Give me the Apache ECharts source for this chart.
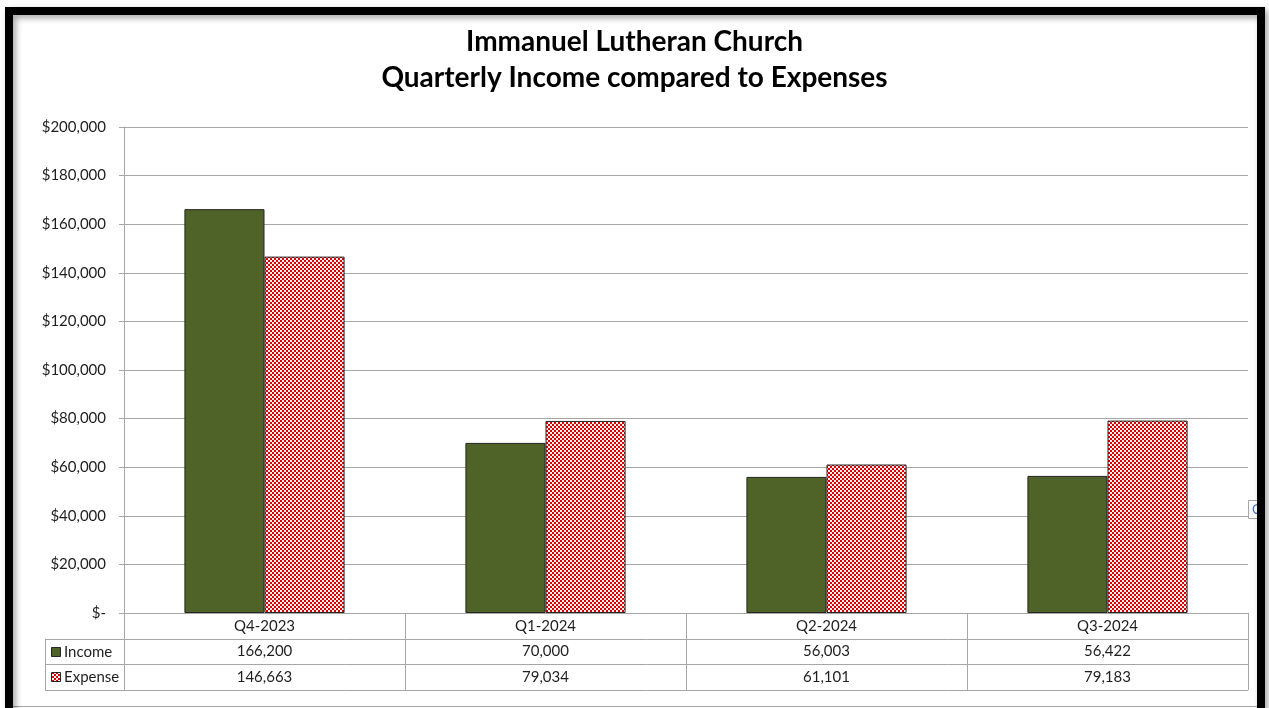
<!DOCTYPE html>
<html>
<head>
<meta charset="utf-8">
<script src="https://cdn.jsdelivr.net/npm/echarts@6/dist/echarts.min.js"></script>
<style>
html, body { margin: 0; padding: 0; background: #fff; }
#main { width: 1269px; height: 708px; }
</style>
</head>
<body>
<div id="main"></div>
<script>
var quarters = ['Q4-2023', 'Q1-2024', 'Q2-2024', 'Q3-2024'];
var income = [166200, 70000, 56003, 56422];
var expense = [146663, 79034, 61101, 79183];
var seriesNames = ['Income', 'Expense'];

var font = 'Lato, "Open Sans", sans-serif';
var textColor = '#1f1f1f';
var lineColor = '#a6a6a6';
var green = '#4f6228';
var W = 1269, H = 708;
var gridLeft = 124, gridRight = 21, gridTop = 127, gridBottom = 95;

// red / white checker used for the expense bars
function checker(size) {
	var c = document.createElement('canvas');
	c.width = size * 2;
	c.height = size * 2;
	var ctx = c.getContext('2d');
	ctx.fillStyle = '#fff0f0';
	ctx.fillRect(0, 0, size * 2, size * 2);
	ctx.fillStyle = '#d80000';
	ctx.fillRect(0, 0, size, size);
	ctx.fillRect(size, size, size, size);
	return c;
}
var expenseFill = { image: checker(2), repeat: 'repeat' };

var chart = echarts.init(document.getElementById('main'));

chart.setOption({
	animation: false,
	title: {
		text: 'Immanuel Lutheran Church\nQuarterly Income compared to Expenses',
		left: 'center',
		top: 19,
		textStyle: {
			fontFamily: font,
			fontSize: 28,
			fontWeight: 'bold',
			color: '#000',
			lineHeight: 36
		}
	},
	grid: {
		left: gridLeft,
		right: gridRight,
		top: gridTop,
		bottom: gridBottom
	},
	xAxis: {
		type: 'category',
		data: quarters,
		axisLine: { lineStyle: { color: lineColor } },
		axisTick: { show: false },
		axisLabel: { show: false }
	},
	yAxis: {
		type: 'value',
		min: 0,
		max: 200000,
		interval: 20000,
		axisLine: { show: true, lineStyle: { color: lineColor } },
		axisTick: { show: true, length: 5, lineStyle: { color: lineColor } },
		splitLine: { lineStyle: { color: lineColor } },
		axisLabel: {
			fontFamily: font,
			fontSize: 15,
			color: textColor,
			margin: 18,
			formatter: function(v) {
				return v === 0 ? '$-' : '$' + v.toLocaleString('en-US');
			}
		}
	},
	series: [{
		name: seriesNames[0],
		type: 'bar',
		data: income,
		barGap: '0%',
		barCategoryGap: '43%',
		itemStyle: { color: green, borderColor: '#262626', borderWidth: 1 }
	}, {
		name: seriesNames[1],
		type: 'bar',
		data: expense,
		itemStyle: { color: expenseFill, borderColor: '#262626', borderWidth: 1 }
	}]
});

// data table under the plot, built from the same arrays (added straight to zrender)
var zr = chart.getZr();
var G = echarts.graphic;
var tblLeft = gridLeft;
var tblRight = W - gridRight;
var step = (tblRight - tblLeft) / quarters.length;
var tblTop = H - gridBottom;
var rowH = 25.7;
var keyLeft = 45;

function line(x1, y1, x2, y2) {
	zr.add(new G.Line({ shape: { x1: x1, y1: y1, x2: x2, y2: y2 }, style: { stroke: lineColor, lineWidth: 1 }, silent: true, z: 10 }));
}
function text(t, x, y, align) {
	zr.add(new G.Text({ x: x, y: y, style: { text: t, fill: textColor, font: '15px ' + font, align: align || 'center', verticalAlign: 'middle' }, silent: true, z: 10 }));
}

for (var r = 1; r <= 3; r++) {
	var ly = Math.round(tblTop + rowH * r) + 0.5;
	line(keyLeft, ly, tblRight, ly);
}
line(keyLeft + 0.5, tblTop + rowH, keyLeft + 0.5, tblTop + rowH * 3);
for (var c = 0; c <= quarters.length; c++) {
	var lx = Math.round(tblLeft + step * c) + 0.5;
	line(lx, tblTop, lx, tblTop + rowH * 3);
}

for (var i = 0; i < quarters.length; i++) {
	var cx = tblLeft + step * (i + 0.5);
	text(quarters[i], cx, tblTop + rowH * 0.5);
	text(income[i].toLocaleString('en-US'), cx, tblTop + rowH * 1.5);
	text(expense[i].toLocaleString('en-US'), cx, tblTop + rowH * 2.5);
}
for (var k = 0; k < seriesNames.length; k++) {
	var ky = Math.round(tblTop + rowH * (k + 1.5));
	zr.add(new G.Rect({ shape: { x: keyLeft + 6.5, y: ky - 4.5, width: 9, height: 9 },
		style: { fill: k === 0 ? green : expenseFill, stroke: '#262626', lineWidth: 1 }, silent: true, z: 10 }));
	text(seriesNames[k], keyLeft + 19, ky, 'left');
}

// clipped label box peeking in at the right edge
zr.add(new G.Rect({ shape: { x: 1248.5, y: 500.5, width: 14, height: 18 },
	style: { fill: '#fff', stroke: lineColor, lineWidth: 1 }, silent: true, z: 15 }));
zr.add(new G.Text({ x: 1252, y: 510, style: { text: 'C', fill: '#4472c4', font: '13px ' + font, verticalAlign: 'middle' }, silent: true, z: 15 }));

// frame around the picture
zr.add(new G.Rect({ shape: { x: 9, y: 11, width: 1252, height: 800 },
	style: { fill: null, stroke: '#000', lineWidth: 8, shadowColor: 'rgba(0,0,0,0.35)', shadowBlur: 6, shadowOffsetX: 3, shadowOffsetY: 3 }, silent: true, z: 20 }));
line(13, 706.5, 1257, 706.5);
</script>
</body>
</html>
